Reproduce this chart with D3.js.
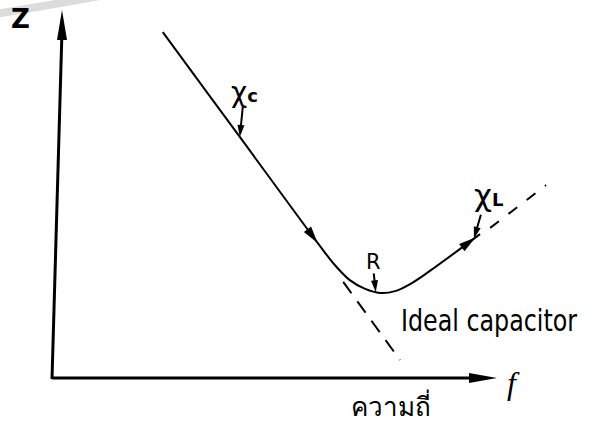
<!DOCTYPE html>
<html>
<head>
<meta charset="utf-8">
<script src="https://cdn.jsdelivr.net/npm/d3@7"></script>
<style>
    body { margin: 0; background: #fff; }
    svg { display: block; }
</style>
</head>
<body>
<svg id="chart" width="595" height="424"></svg>
<script>
const freq = [24.5, 42.0, 60.2, 63.6, 67.0, 70.5, 73.9, 77.3, 81.1, 85.2, 96.6];
const impedance = [94.0, 65.5, 35.9, 30.7, 26.6, 24.2, 23.1, 23.6, 25.8, 29.1, 39.1];

// dashed asymptotes
const capAsymF = [65.5, 78.4];
const capAsymZ = [26.1, 4.9];
const indAsymF = [98.9, 111.6];
const indAsymZ = [40.8, 52.4];

// direction arrows along the curve
const flowArrowF = [58.6, 94.1];

// labelled points on the curve
const labelNames = ['Xc', 'R', 'XL'];
const labelF = [42.0, 72.9, 95.2];

const svg = d3.select('#chart');

const x = d3.scaleLinear().domain([0, 100]).range([55, 495]);
const y = d3.scaleLinear().domain([0, 100]).range([378, 10]);

// grey scan smudge at the top left
svg.append('path')
    .attr('d', 'M-5,14 Q45,6 100,-4')
    .attr('fill', 'none')
    .attr('stroke', '#dcdcdc')
    .attr('stroke-width', 8);

function arrowHead(g, tx, ty, angle, len, half) {
    const c = Math.cos(angle), s = Math.sin(angle);
    const bx = tx - c * len, by = ty - s * len;
    const pts = [
        [tx, ty],
        [bx - s * half, by + c * half],
        [bx + s * half, by - c * half],
    ];
    g.append('path').attr('d', 'M' + pts.join('L') + 'Z').attr('fill', '#000');
}

// axes (hand drawn, no ticks)
const axes = svg.append('g');
axes.append('line')
    .attr('x1', x(0) - 3).attr('y1', y(0) + 1)
    .attr('x2', x(0) + 7).attr('y2', y(100) + 20)
    .attr('stroke', '#000').attr('stroke-width', 3);
arrowHead(axes, x(0) + 7, y(100), -Math.PI / 2, 30, 5);

axes.append('line')
    .attr('x1', x(0) - 3).attr('y1', y(0))
    .attr('x2', x(100) - 15).attr('y2', y(0))
    .attr('stroke', '#000').attr('stroke-width', 3);
arrowHead(axes, x(100) + 2, y(0), 0, 28, 5);

axes.append('text')
    .attr('x', 11).attr('y', 28)
    .attr('font-family', 'DejaVu Sans')
    .attr('font-weight', 'bold')
    .attr('font-size', 26)
    .text('Z');

axes.append('text')
    .attr('x', 507).attr('y', 394)
    .attr('font-family', 'Liberation Serif')
    .attr('font-style', 'italic')
    .attr('font-size', 32)
    .text('f');

axes.append('text')
    .attr('x', 391).attr('y', 416)
    .attr('text-anchor', 'middle')
    .attr('font-family', 'Noto Sans, sans-serif')
    .attr('font-size', 26)
    .text('ความถี่');

// dashed asymptotes
const asym = d3.line().x((d) => x(d[0])).y((d) => y(d[1]));
svg.append('path')
    .attr('d', asym(d3.zip(capAsymF, capAsymZ)))
    .attr('fill', 'none').attr('stroke', '#000').attr('stroke-width', 2)
    .attr('stroke-dasharray', '14,10');
svg.append('path')
    .attr('d', asym(d3.zip(indAsymF, indAsymZ)))
    .attr('fill', 'none').attr('stroke', '#000').attr('stroke-width', 2)
    .attr('stroke-dasharray', '11,12');

// the impedance curve
const line = d3.line()
    .x((d) => x(d[0]))
    .y((d) => y(d[1]))
    .curve(d3.curveCatmullRom.alpha(0.5));

const curve = svg.append('path')
    .attr('d', line(d3.zip(freq, impedance)))
    .attr('fill', 'none')
    .attr('stroke', '#000')
    .attr('stroke-width', 2);

// find the point of the curve at a given screen x
const node = curve.node();
const total = node.getTotalLength();
function pointAtX(px) {
    let lo = 0, hi = total;
    for (let i = 0; i < 40; i++) {
        const mid = (lo + hi) / 2;
        if (node.getPointAtLength(mid).x < px) lo = mid;
        else hi = mid;
    }
    const p = node.getPointAtLength(lo);
    const q = node.getPointAtLength(Math.min(total, lo + 2));
    return { x: p.x, y: p.y, angle: Math.atan2(q.y - p.y, q.x - p.x) };
}

const marks = svg.append('g');
flowArrowF.forEach((f) => {
    const p = pointAtX(x(f));
    arrowHead(marks, p.x + Math.cos(p.angle) * 8, p.y + Math.sin(p.angle) * 8, p.angle, 17, 4.5);
});

// labels with small pointer arrows
const tailOffset = [[3, -30], [-2, -19], [7, -24]];
const textPos = [[231, 102], [366, 269], [474, 206]];
labelNames.forEach((name, i) => {
    const p = pointAtX(x(labelF[i]));
    const tx = p.x + tailOffset[i][0], ty = p.y + tailOffset[i][1];
    const ang = Math.atan2(p.y - ty, p.x - tx);
    marks.append('line')
        .attr('x1', tx).attr('y1', ty)
        .attr('x2', p.x - Math.cos(ang) * 6).attr('y2', p.y - Math.sin(ang) * 6)
        .attr('stroke', '#000').attr('stroke-width', 2);
    arrowHead(marks, p.x, p.y, ang, 12, 3.5);

    const t = marks.append('text')
        .attr('x', textPos[i][0]).attr('y', textPos[i][1])
        .attr('font-family', 'DejaVu Sans')
        .attr('fill', '#000');
    if (name === 'R') {
        t.attr('font-size', 21).text('R');
    } else {
        t.append('tspan').attr('font-size', name === 'XL' ? 31 : 28).text('χ');
        t.append('tspan').attr('font-size', 18).attr('font-weight', 'bold')
            .text(name.slice(1));
    }
});

// handwritten note, drawn a bit taller than the font
svg.append('text')
    .attr('transform', 'translate(401,331) scale(1,1.3)')
    .attr('font-family', 'DejaVu Sans Condensed, DejaVu Sans')
    .attr('font-size', 23)
    .attr('textLength', 176)
    .attr('lengthAdjust', 'spacingAndGlyphs')
    .text('Ideal capacitor');
</script>
</body>
</html>
